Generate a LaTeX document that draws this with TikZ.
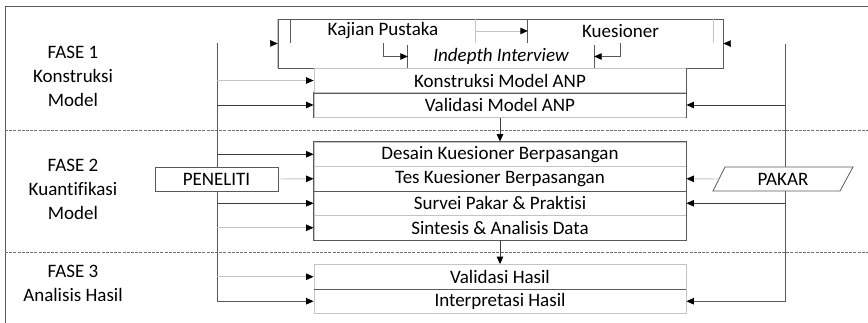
\documentclass[tikz,border=0pt]{standalone}
\usepackage{fontspec}
\setmainfont[Ligatures=NoCommon]{Carlito}
\usetikzlibrary{arrows.meta}
\definecolor{dk}{HTML}{5A5A5A}
\definecolor{lt}{HTML}{C4C4C4}
\definecolor{ln}{HTML}{3C3C3C}
\tikzset{
  txt/.style={font=\fontsize{19}{24}\selectfont, inner sep=0pt},
  row/.style={txt, draw=lt, line width=0.8pt, minimum width=372pt, minimum height=24.5pt},
  blank/.style={txt, draw=none},
  tip/.style={-{Triangle[length=7.5pt,width=6.5pt,black]}},
  darkarrow/.style={tip, draw=ln, line width=0.9pt},
  lightarrow/.style={tip, draw=lt, line width=0.9pt},
  phase/.style={draw=black!55, line width=0.6pt, dash pattern=on 3pt off 1.2pt},
  actor/.style={txt, draw=dk, fill=white, line width=0.8pt}
}
\begin{document}
\begin{tikzpicture}[x=1pt,y=-1pt]
\useasboundingbox (0,0) rectangle (868,323);

% outer frame (open to the right and bottom)
\draw[draw=dk, line width=0.9pt] (868,6) -- (5,6) -- (5,323);

% phase separators
\draw[phase] (5,130) -- (868,130);
\draw[phase] (5,252) -- (868,252);

% phase labels
\node[txt, align=center] (f1) at (73,76) {FASE 1\\Konstruksi\\Model};
\node[txt, align=center] (f2) at (73,189) {FASE 2\\Kuantifikasi\\Model};
\node[txt, align=center] (f3) at (73,283) {FASE 3\\Analisis Hasil};

% literature / questionnaire / interview block
\node[draw=dk, line width=0.8pt, minimum width=445pt, minimum height=49pt, inner sep=0pt] (top) at (500.5,43.5) {};
\draw[draw=lt, line width=0.8pt] (top.north west) -- (top.south west);
\node[blank, minimum width=184pt, minimum height=24pt] (kajian) at (383,31) {Kajian Pustaka};
\node[blank, minimum width=185pt, minimum height=24pt] (kues) at (620.5,31) {Kuesioner};
\node[blank, minimum width=186pt, minimum height=23pt] (indepth) at (501,56.5) {\itshape Indepth Interview};
\draw[draw=dk, line width=0.8pt] (kajian.north west) -- (kajian.south west);
\draw[draw=lt, line width=0.8pt] (kajian.north east) -- (kajian.south east);
\draw[draw=dk, line width=0.8pt] (kues.north west) -- (kues.south west);
\draw[draw=lt, line width=1.4pt] (kues.north east) -- (kues.south east);
\draw[draw=dk, line width=0.8pt] (indepth.north west) -- (indepth.south west);
\draw[draw=dk, line width=0.8pt] (indepth.north east) -- (indepth.south east);
\draw[lightarrow] (kajian.east) -- (kues.west);
\draw[tip, draw=dk, line width=0.8pt] (kajian.south) |- (indepth.west);
\draw[tip, draw=dk, line width=0.8pt] (kues.south) |- (indepth.east);

% process rows
\node[row] (kons) at (500,80.5) {Konstruksi Model ANP};
\node[row] (val) at (500,105) {Validasi Model ANP};
\node[row] (desain) at (500,154.25) {Desain Kuesioner Berpasangan};
\node[row] (tes) at (500,178.75) {Tes Kuesioner Berpasangan};
\node[row] (survei) at (500,203.25) {Survei Pakar \& Praktisi};
\node[row] (sintesis) at (500,227.75) {Sintesis \& Analisis Data};
\node[row] (valhasil) at (500,276.75) {Validasi Hasil};
\node[row] (interp) at (500,301.25) {Interpretasi Hasil};

% darker outlines and separators
\draw[draw=dk, line width=0.8pt] (kons.south west) -- (kons.south east);
\draw[draw=dk, line width=0.8pt] (kons.north east) -- (val.south east);
\draw[draw=dk, line width=0.8pt] (val.north west) -- (val.south west);
\draw[draw=dk, line width=0.8pt] (desain.north west) rectangle (sintesis.south east);
\draw[draw=dk, line width=0.8pt] (tes.south west) -- (tes.south east);
\draw[draw=dk, line width=0.8pt] (valhasil.south west) -- (valhasil.south east);

% flow between phases
\draw[darkarrow] (val.south) -- (desain.north);
\draw[darkarrow] (sintesis.south) -- (valhasil.north);

% researcher side
\coordinate (L) at (217,43);
\draw[tip, draw=white] (L) -- (top.west);
\draw[darkarrow, draw=dk] (L) |- (interp.west);
\draw[lightarrow] (L |- kons.west) -- (kons.west);
\draw[darkarrow] (L |- val.west) -- (val.west);
\draw[darkarrow] (L |- desain.west) -- (desain.west);
\draw[darkarrow] (L |- survei.west) -- (survei.west);
\draw[lightarrow] (L |- sintesis.west) -- (sintesis.west);
\draw[lightarrow] (L |- valhasil.west) -- (valhasil.west);
\node[actor, minimum width=123pt, minimum height=24pt] (peneliti) at (216.5,179) {PENELITI};
\draw[lightarrow] (peneliti.east) -- (tes.west);

% expert side
\coordinate (R) at (785,44);
\draw[tip, draw=white] (R) -- (top.east);
\draw[darkarrow, draw=dk] (R) |- (interp.east);
\draw[darkarrow] (R |- val.east) -- (val.east);
\draw[darkarrow] (R |- survei.east) -- (survei.east);
% slanted expert box: outline drawn first, label on top
\filldraw[fill=white, draw=dk, line width=0.8pt] (725,167) -- (853,167) -- (840,191) -- (713,191) -- cycle;
\node[blank, minimum width=128pt, minimum height=24pt] (pakar) at (783,179) {PAKAR};
\draw[lightarrow] (pakar.west) -- (tes.east);
\end{tikzpicture}
\end{document}
